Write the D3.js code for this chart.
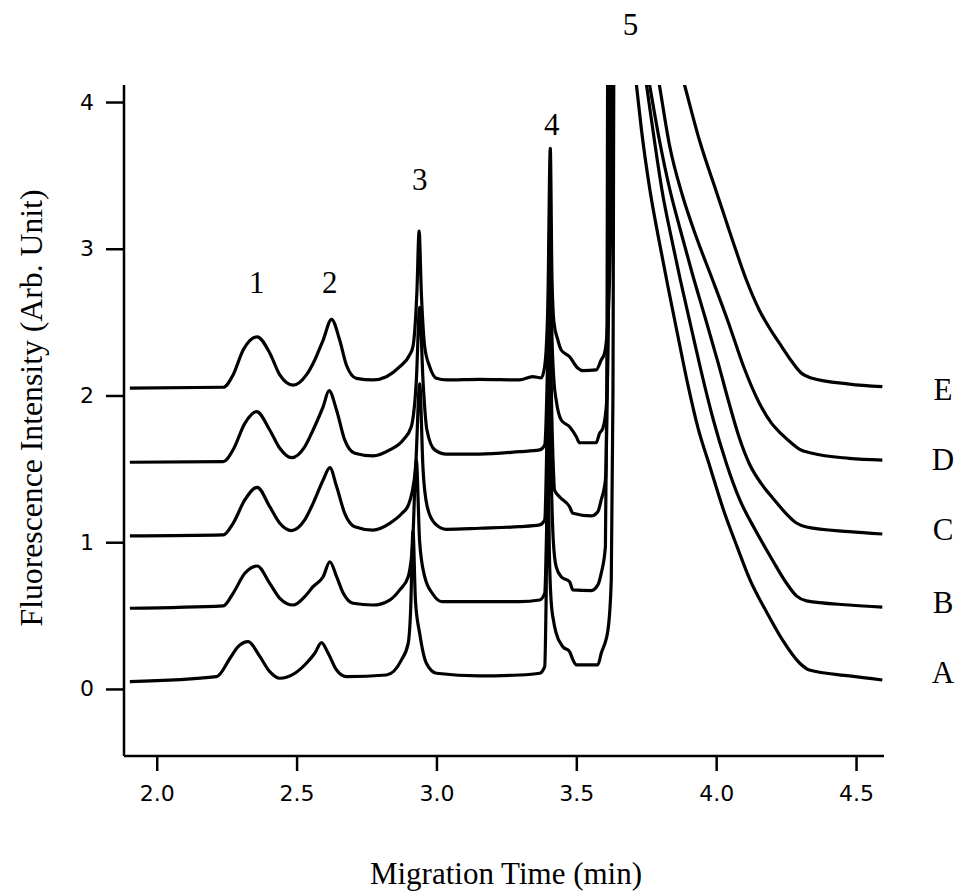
<!DOCTYPE html>
<html>
<head>
<meta charset="utf-8">
<script src="https://cdn.jsdelivr.net/npm/d3@7"></script>
<style>
  body { margin: 0; background: #fff; }
</style>
</head>
<body>
<svg id="chart" width="959" height="893"></svg>
<script>
// electropherograms, [migration time (min), intensity]
const traceA = [[1.904,0.05],[2.214,0.084],[2.262,0.209],[2.291,0.288],[2.327,0.322],[2.369,0.22],[2.404,0.118],[2.44,0.073],[2.494,0.107],[2.535,0.175],[2.565,0.243],[2.589,0.316],[2.613,0.243],[2.643,0.129],[2.678,0.084],[2.821,0.095],[2.875,0.198],[2.899,0.311],[2.908,0.55],[2.916,1.08],[2.925,0.6],[2.94,0.379],[2.964,0.175],[3.0,0.107],[3.154,0.089],[3.297,0.095],[3.369,0.107],[3.387,0.152],[3.392,0.6],[3.398,1.72],[3.404,0.9],[3.41,0.6],[3.42,0.45],[3.428,0.38],[3.452,0.288],[3.476,0.254],[3.488,0.198],[3.50,0.164],[3.577,0.164],[3.589,0.243],[3.613,0.40],[3.625,0.743],[3.631,2.0],[3.635,4.5],[3.69,4.5],[3.70,4.35],[3.715,4.116],[3.733,3.809],[3.762,3.414],[3.794,3.073],[3.83,2.719],[3.866,2.378],[3.899,2.072],[3.935,1.779],[3.978,1.513],[4.025,1.227],[4.075,0.968],[4.121,0.743],[4.182,0.518],[4.237,0.334],[4.298,0.177],[4.333,0.129],[4.476,0.089],[4.594,0.061]];
const traceB = [[1.904,0.55],[2.238,0.566],[2.273,0.652],[2.315,0.788],[2.359,0.838],[2.404,0.72],[2.44,0.618],[2.488,0.572],[2.529,0.629],[2.559,0.697],[2.595,0.765],[2.619,0.867],[2.643,0.765],[2.667,0.652],[2.702,0.584],[2.773,0.572],[2.833,0.606],[2.869,0.675],[2.899,0.765],[2.915,1.0],[2.928,1.56],[2.94,1.0],[2.958,0.765],[2.985,0.652],[3.02,0.595],[3.154,0.595],[3.297,0.595],[3.369,0.606],[3.387,0.652],[3.396,1.3],[3.404,2.2],[3.411,1.4],[3.418,1.0],[3.428,0.833],[3.446,0.765],[3.476,0.731],[3.488,0.675],[3.553,0.67],[3.577,0.709],[3.589,0.788],[3.604,0.97],[3.609,2.0],[3.613,4.5],[3.70,4.5],[3.73,4.40],[3.751,4.116],[3.78,3.727],[3.808,3.38],[3.84,3.073],[3.872,2.787],[3.911,2.46],[3.947,2.16],[3.99,1.833],[4.036,1.54],[4.083,1.295],[4.14,1.083],[4.201,0.879],[4.251,0.722],[4.287,0.634],[4.323,0.60],[4.476,0.572],[4.594,0.557]];
const traceC = [[1.904,1.043],[2.238,1.05],[2.273,1.129],[2.315,1.288],[2.359,1.374],[2.404,1.242],[2.44,1.129],[2.482,1.079],[2.529,1.152],[2.559,1.265],[2.595,1.424],[2.619,1.508],[2.643,1.379],[2.672,1.197],[2.708,1.106],[2.773,1.083],[2.833,1.129],[2.877,1.197],[2.90,1.254],[2.925,1.5],[2.94,2.08],[2.952,1.5],[2.967,1.242],[2.994,1.129],[3.036,1.088],[3.154,1.095],[3.297,1.106],[3.369,1.118],[3.387,1.152],[3.396,1.8],[3.405,2.75],[3.412,1.9],[3.418,1.5],[3.422,1.356],[3.44,1.31],[3.476,1.242],[3.488,1.197],[3.553,1.179],[3.577,1.208],[3.589,1.288],[3.604,1.424],[3.611,2.2],[3.616,4.5],[3.70,4.5],[3.74,4.35],[3.762,4.116],[3.797,3.741],[3.833,3.414],[3.872,3.128],[3.915,2.828],[3.961,2.528],[4.008,2.215],[4.047,1.942],[4.083,1.71],[4.119,1.533],[4.162,1.397],[4.205,1.295],[4.251,1.193],[4.287,1.131],[4.323,1.104],[4.476,1.072],[4.594,1.056]];
const traceD = [[1.904,1.545],[2.238,1.549],[2.273,1.63],[2.315,1.81],[2.357,1.89],[2.404,1.765],[2.44,1.64],[2.482,1.576],[2.529,1.65],[2.559,1.765],[2.595,1.924],[2.616,2.033],[2.643,1.90],[2.672,1.697],[2.708,1.606],[2.773,1.588],[2.833,1.629],[2.881,1.697],[2.91,1.787],[2.928,2.1],[2.94,2.6],[2.952,2.1],[2.966,1.765],[2.994,1.629],[3.036,1.60],[3.154,1.60],[3.297,1.617],[3.369,1.629],[3.387,1.663],[3.397,2.2],[3.406,3.2],[3.413,2.4],[3.42,2.1],[3.428,1.969],[3.446,1.833],[3.476,1.787],[3.50,1.719],[3.512,1.678],[3.571,1.678],[3.583,1.742],[3.595,1.776],[3.609,1.969],[3.617,3.0],[3.621,4.5],[3.70,4.5],[3.77,4.42],[3.797,4.116],[3.833,3.707],[3.879,3.366],[3.929,3.08],[3.986,2.794],[4.043,2.501],[4.10,2.187],[4.154,1.949],[4.197,1.813],[4.233,1.738],[4.269,1.676],[4.297,1.635],[4.343,1.606],[4.476,1.572],[4.594,1.56]];
const traceE = [[1.904,2.05],[2.238,2.056],[2.273,2.14],[2.309,2.31],[2.359,2.40],[2.404,2.29],[2.44,2.14],[2.488,2.07],[2.535,2.14],[2.565,2.242],[2.595,2.378],[2.625,2.519],[2.654,2.378],[2.678,2.208],[2.714,2.117],[2.773,2.106],[2.821,2.128],[2.869,2.196],[2.904,2.276],[2.916,2.333],[2.93,2.7],[2.938,3.12],[2.946,2.7],[2.958,2.333],[2.976,2.196],[3.0,2.117],[3.036,2.106],[3.154,2.11],[3.297,2.106],[3.344,2.128],[3.375,2.12],[3.387,2.2],[3.398,2.6],[3.407,3.684],[3.413,2.8],[3.42,2.5],[3.434,2.378],[3.446,2.31],[3.476,2.264],[3.506,2.185],[3.523,2.169],[3.571,2.174],[3.589,2.242],[3.601,2.288],[3.615,2.6],[3.624,3.3],[3.628,4.5],[3.70,4.5],[3.85,4.38],[3.887,4.116],[3.94,3.741],[4.001,3.387],[4.058,3.06],[4.108,2.787],[4.154,2.583],[4.197,2.44],[4.233,2.337],[4.269,2.235],[4.304,2.153],[4.34,2.119],[4.476,2.078],[4.594,2.06]];

const traceNames = ['A', 'B', 'C', 'D', 'E'];
const traceData = [traceA, traceB, traceC, traceD, traceE];
const traceNameLevels = [0.041, 0.518, 1.015, 1.492, 1.969];

// peak numbers and where they sit (time, intensity)
const peakNames = ['1', '2', '3', '4', '5'];
const peakTimes = [2.358, 2.619, 2.94, 3.412, 3.694];
const peakLevels = [2.70, 2.70, 3.40, 3.775, 4.457];

const xTicks = [2.0, 2.5, 3.0, 3.5, 4.0, 4.5];
const yTicks = [0, 1, 2, 3, 4];

const svg = d3.select('#chart');
const plotLeft = 124, plotRight = 884, plotTop = 85, plotBottom = 756;

const x = d3.scaleLinear().domain([1.883, 4.60]).range([plotLeft, plotRight]);
const y = d3.scaleLinear().domain([-0.457, 4.116]).range([plotBottom, plotTop]);

const serif = '"Liberation Serif", "Times New Roman", serif';
const sans = '"DejaVu Sans", Arial, sans-serif';

svg.append('rect').attr('width', 959).attr('height', 893).attr('fill', '#fff');

svg.append('clipPath').attr('id', 'plotClip')
  .append('rect')
  .attr('x', plotLeft).attr('y', plotTop)
  .attr('width', plotRight - plotLeft).attr('height', plotBottom - plotTop);

/** traces */
const line = d3.line()
  .curve(d3.curveMonotoneX)
  .x(d => x(d[0]))
  .y(d => y(d[1]));

svg.append('g')
  .attr('clip-path', 'url(#plotClip)')
  .selectAll('path')
  .data(traceData)
  .enter()
  .append('path')
  .attr('d', line)
  .attr('fill', 'none')
  .attr('stroke', '#000')
  .attr('stroke-width', 3.2)
  .attr('stroke-linejoin', 'round');

/** axes */
const xAxis = svg.append('g')
  .attr('transform', `translate(0,${plotBottom})`)
  .call(d3.axisBottom(x).tickValues(xTicks).tickSize(15).tickSizeOuter(0).tickPadding(14).tickFormat(d3.format('.1f')));
const yAxis = svg.append('g')
  .attr('transform', `translate(${plotLeft},0)`)
  .call(d3.axisLeft(y).tickValues(yTicks).tickSize(18).tickSizeOuter(0).tickPadding(12).tickFormat(d3.format('d')));

[xAxis, yAxis].forEach(g => {
  g.select('.domain').attr('stroke', '#000').attr('stroke-width', 2.5);
  g.selectAll('.tick line').attr('stroke', '#000').attr('stroke-width', 2.5);
  g.selectAll('.tick text')
    .attr('fill', '#000')
    .style('font-family', sans)
    .style('font-size', '22px');
});
xAxis.select('.domain').attr('d', `M${plotLeft},0H${plotRight}`);
yAxis.select('.domain').attr('d', `M0,${plotTop}V${plotBottom}`);

/** peak numbers */
svg.selectAll('.peak')
  .data(peakNames)
  .enter()
  .append('text')
  .attr('class', 'peak')
  .attr('x', (d, i) => x(peakTimes[i]))
  .attr('y', (d, i) => y(peakLevels[i]))
  .attr('text-anchor', 'middle')
  .style('font-family', serif)
  .style('font-size', '31px')
  .text(d => d);

/** trace letters at the right end */
svg.selectAll('.trace-name')
  .data(traceNames)
  .enter()
  .append('text')
  .attr('class', 'trace-name')
  .attr('x', plotRight + 59)
  .attr('y', (d, i) => y(traceNameLevels[i]))
  .attr('text-anchor', 'middle')
  .style('font-family', serif)
  .style('font-size', '31px')
  .text(d => d);

/** axis titles */
svg.append('text')
  .attr('x', 506)
  .attr('y', 884)
  .attr('text-anchor', 'middle')
  .style('font-family', serif)
  .style('font-size', '31px')
  .text('Migration Time (min)');

svg.append('text')
  .attr('transform', 'translate(42,408) rotate(-90)')
  .attr('text-anchor', 'middle')
  .attr('textLength', 437)
  .attr('lengthAdjust', 'spacingAndGlyphs')
  .style('font-family', serif)
  .style('font-size', '31px')
  .text('Fluorescence Intensity (Arb. Unit)');
</script>
</body>
</html>
